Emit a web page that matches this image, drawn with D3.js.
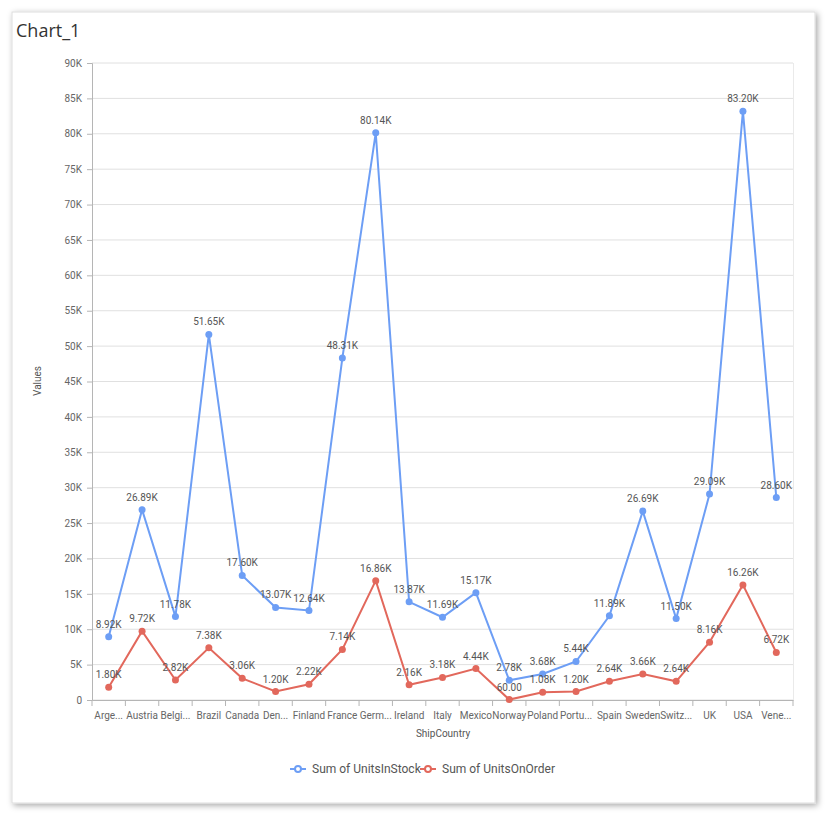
<!DOCTYPE html>
<html><head><meta charset="utf-8">
<script src="https://cdn.jsdelivr.net/npm/d3@7/dist/d3.min.js"></script>
<style>
body{margin:0;background:#fff;font-family:Roboto,"Open Sans",sans-serif;}
</style></head>
<body>
<svg id="c" width="837" height="822"></svg>
<script>
const categories = ["Argentina","Austria","Belgium","Brazil","Canada","Denmark","Finland","France","Germany","Ireland","Italy","Mexico","Norway","Poland","Portugal","Spain","Sweden","Switzerland","UK","USA","Venezuela"];
const shortLabels = ["Arge...","Austria","Belgi...","Brazil","Canada","Den...","Finland","France","Germ...","Ireland","Italy","Mexico","Norway","Poland","Portu...","Spain","Sweden","Switz...","UK","USA","Vene..."];
const unitsInStock = [8920,26890,11780,51650,17600,13070,12640,48310,80140,13870,11690,15170,2780,3680,5440,11890,26690,11500,29090,83200,28600];
const unitsOnOrder = [1800,9720,2820,7380,3060,1200,2220,7140,16860,2160,3180,4440,60,1080,1200,2640,3660,2640,8160,16260,6720];
const yTicks = [0,5000,10000,15000,20000,25000,30000,35000,40000,45000,50000,55000,60000,65000,70000,75000,80000,85000,90000];
const seriesNames = ["Sum of UnitsInStock","Sum of UnitsOnOrder"];
const colors = ["#6d9ef5","#e2685c"];

const svg = d3.select("#c");
const defs = svg.append("defs");
const f = defs.append("filter").attr("id","sh").attr("x","-5%").attr("y","-5%").attr("width","110%").attr("height","110%");
f.append("feDropShadow").attr("dx",2).attr("dy",2).attr("stdDeviation",3).attr("flood-color","#000").attr("flood-opacity",0.35);
svg.append("rect").attr("x",12).attr("y",12).attr("width",803).attr("height",791).attr("fill","#fff").attr("stroke","#ddd").attr("filter","url(#sh)");

svg.append("text").attr("x",16).attr("y",37).text("Chart_1").attr("font-family","'Open Sans',sans-serif").attr("font-size",18).attr("fill","#333");

const L=92,R=793,T=63,B=700;
const x = d3.scaleBand().domain(categories).range([L,R]);
const y = d3.scaleLinear().domain([0,90000]).range([B,T]);

// grid
svg.append("g").selectAll("line").data(yTicks).join("line")
  .attr("x1",L).attr("x2",R).attr("y1",d=>y(d)).attr("y2",d=>y(d)).attr("stroke","#e0e0e0").attr("stroke-width",1);
svg.append("line").attr("x1",R+0.5).attr("x2",R+0.5).attr("y1",T).attr("y2",B).attr("stroke","#eaeaea");

const fmt = v => v>=1000 ? (v/1000).toFixed(2)+"K" : v.toFixed(2);
const yFmt = v => v===0 ? "0" : (v/1000)+"K";

const ya = svg.append("g").attr("transform",`translate(${L},0)`)
  .call(d3.axisLeft(y).tickValues(yTicks).tickFormat(yFmt).tickSize(5).tickPadding(5));
ya.select(".domain").attr("stroke","#b5b5b5");
ya.selectAll(".tick line").attr("stroke","#b5b5b5");
ya.selectAll("text").attr("fill","#666").attr("font-size",10).attr("font-family","Roboto,sans-serif");

const xa = svg.append("g").attr("transform",`translate(0,${B})`)
  .call(d3.axisBottom(x).tickFormat((d,i)=>shortLabels[i]).tickSize(0).tickPadding(12));
xa.select(".domain").attr("stroke","#b5b5b5");
xa.selectAll("text").attr("fill","#666").attr("font-size",10).attr("font-family","Roboto,sans-serif");
// band boundary ticks
const edges = categories.map(c=>x(c)).concat([R]);
svg.append("g").selectAll("line").data(edges).join("line")
  .attr("x1",d=>d).attr("x2",d=>d).attr("y1",B).attr("y2",B+6).attr("stroke","#b5b5b5");

svg.append("text").attr("transform","translate(41,381) rotate(-90)").attr("text-anchor","middle")
  .attr("font-size",10).attr("fill","#555").text("Values");
svg.append("text").attr("x",443).attr("y",737).attr("text-anchor","middle")
  .attr("font-size",10).attr("fill","#555").text("ShipCountry");

const cx = d => x(d)+x.bandwidth()/2;
[unitsInStock,unitsOnOrder].forEach((vals,si)=>{
  const line = d3.line().x((d,i)=>cx(categories[i])).y(d=>y(d));
  svg.append("path").datum(vals).attr("d",line).attr("fill","none").attr("stroke",colors[si]).attr("stroke-width",2);
  svg.append("g").selectAll("circle").data(vals).join("circle")
    .attr("cx",(d,i)=>cx(categories[i])).attr("cy",d=>y(d)).attr("r",3.5).attr("fill",colors[si]);
  svg.append("g").selectAll("text").data(vals).join("text")
    .attr("x",(d,i)=>cx(categories[i])).attr("y",d=>y(d)-9).attr("text-anchor","middle")
    .attr("font-size",10).attr("fill","#555").text(d=>fmt(d));
});

// legend
const lg = svg.append("g").attr("font-size",12).attr("fill","#555");
const items=[{x:290,t:seriesNames[0],c:colors[0]},{x:420,t:seriesNames[1],c:colors[1]}];
items.forEach(it=>{
  lg.append("line").attr("x1",it.x).attr("x2",it.x+16).attr("y1",769).attr("y2",769).attr("stroke",it.c).attr("stroke-width",2);
  lg.append("circle").attr("cx",it.x+8).attr("cy",769).attr("r",3).attr("fill","#fff").attr("stroke",it.c).attr("stroke-width",2);
  lg.append("text").attr("x",it.x+22).attr("y",773).attr("fill","#555").text(it.t);
});
</script>
</body></html>
